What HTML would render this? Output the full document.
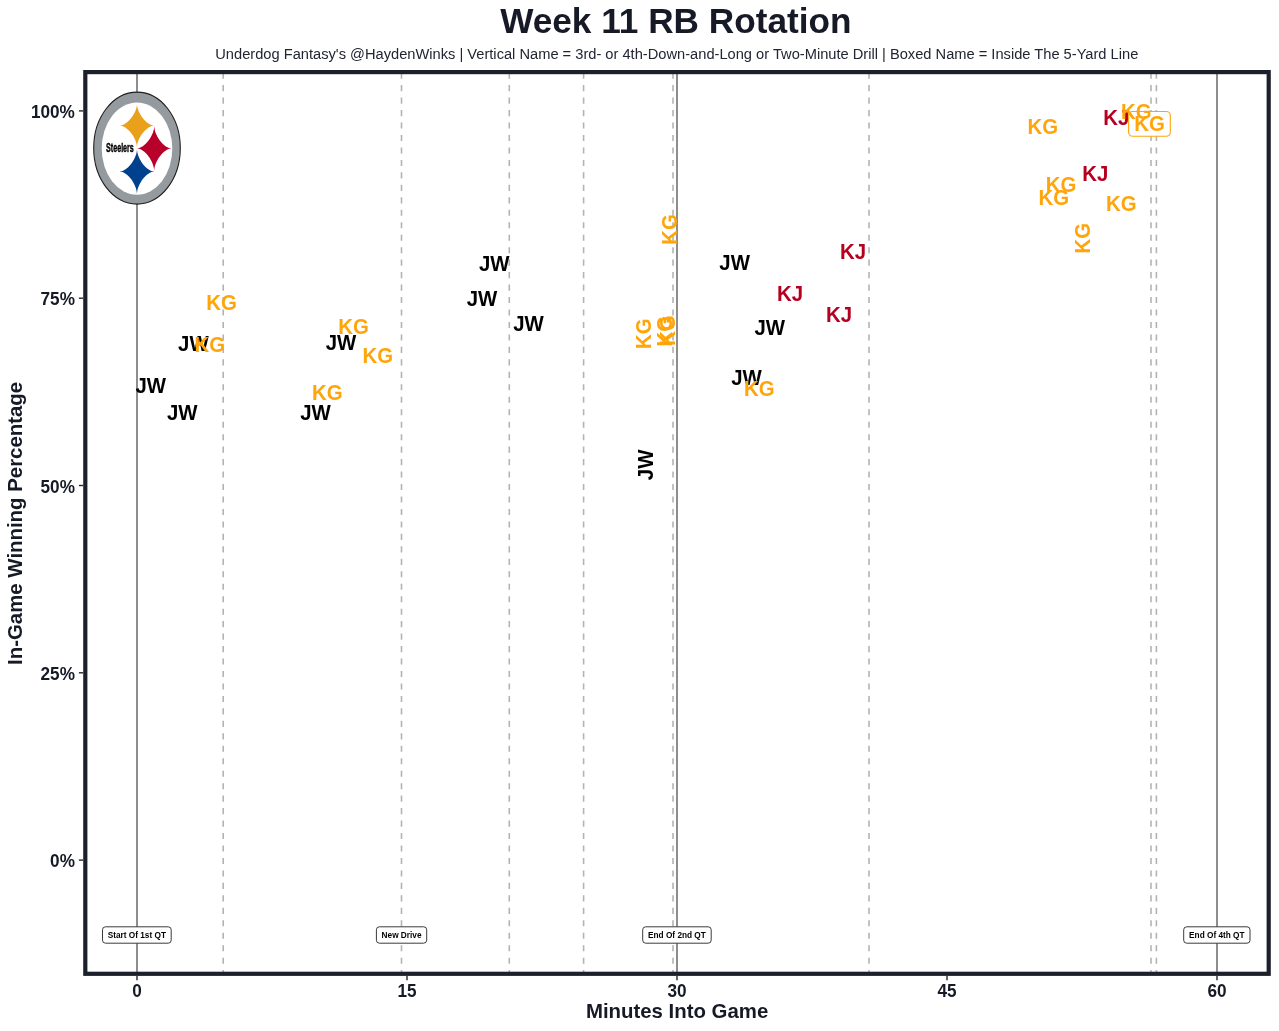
<!DOCTYPE html>
<html><head><meta charset="utf-8"><title>Week 11 RB Rotation</title>
<style>
html,body{margin:0;padding:0;background:#fff;}
svg{display:block;will-change:transform;}
text{font-family:'Liberation Sans', Arial, sans-serif;}
</style></head><body>
<svg width="1279" height="1031" viewBox="0 0 1279 1031">
<rect x="0" y="0" width="1279" height="1031" fill="#ffffff"/>

<text x="675.8" y="32.6" text-anchor="middle" font-weight="bold" font-size="35.2" fill="#161a26">Week 11 RB Rotation</text>
<text x="676.8" y="59.3" text-anchor="middle" font-size="14.66" fill="#222633">Underdog Fantasy's @HaydenWinks | Vertical Name = 3rd- or 4th-Down-and-Long or Two-Minute Drill | Boxed Name = Inside The 5-Yard Line</text>
<line x1="223.2" y1="72.64" x2="223.2" y2="973.8" stroke="#b3b3b3" stroke-width="1.6" stroke-dasharray="6.1 6.365"/>
<line x1="401.5" y1="72.64" x2="401.5" y2="973.8" stroke="#b3b3b3" stroke-width="1.6" stroke-dasharray="6.1 6.365"/>
<line x1="509.3" y1="72.64" x2="509.3" y2="973.8" stroke="#b3b3b3" stroke-width="1.6" stroke-dasharray="6.1 6.365"/>
<line x1="583.6" y1="72.64" x2="583.6" y2="973.8" stroke="#b3b3b3" stroke-width="1.6" stroke-dasharray="6.1 6.365"/>
<line x1="673.0" y1="72.64" x2="673.0" y2="973.8" stroke="#b3b3b3" stroke-width="1.6" stroke-dasharray="6.1 6.365"/>
<line x1="869.0" y1="72.64" x2="869.0" y2="973.8" stroke="#b3b3b3" stroke-width="1.6" stroke-dasharray="6.1 6.365"/>
<line x1="1151.0" y1="72.64" x2="1151.0" y2="973.8" stroke="#b3b3b3" stroke-width="1.6" stroke-dasharray="6.1 6.365"/>
<line x1="1156.4" y1="72.64" x2="1156.4" y2="973.8" stroke="#b3b3b3" stroke-width="1.6" stroke-dasharray="6.1 6.365"/>
<line x1="137" y1="72.1" x2="137" y2="973.8" stroke="#7a7a7a" stroke-width="1.7"/>
<line x1="677" y1="72.1" x2="677" y2="973.8" stroke="#7a7a7a" stroke-width="1.7"/>
<line x1="1217" y1="72.1" x2="1217" y2="973.8" stroke="#7a7a7a" stroke-width="1.7"/>
<g id="logo">
<ellipse cx="137" cy="148.1" rx="43.3" ry="56" fill="#949a9d" stroke="#1e1e1e" stroke-width="1.1"/>
<ellipse cx="137" cy="148.6" rx="35.3" ry="46.1" fill="#ffffff"/>
<path d="M154.50,125.60 C146.97,125.60 137.00,138.08 137.00,147.50 C137.00,138.08 127.03,125.60 119.50,125.60 C127.03,125.60 137.00,113.12 137.00,103.70 C137.00,113.12 146.97,125.60 154.50,125.60 Z" fill="#E9A11C"/>
<path d="M171.35,148.40 C164.00,148.40 154.25,161.28 154.25,171.00 C154.25,161.28 144.50,148.40 137.15,148.40 C144.50,148.40 154.25,135.52 154.25,125.80 C154.25,135.52 164.00,148.40 171.35,148.40 Z" fill="#B8002A"/>
<path d="M154.30,171.60 C146.86,171.60 137.00,184.42 137.00,194.10 C137.00,184.42 127.14,171.60 119.70,171.60 C127.14,171.60 137.00,158.78 137.00,149.10 C137.00,158.78 146.86,171.60 154.30,171.60 Z" fill="#00418F"/>
<text transform="translate(106.1 151.5) scale(0.52 1)" font-weight="bold" font-size="13.7" fill="#000" stroke="#000" stroke-width="0.45">Steelers</text>
</g>
<text transform="translate(221.45 310.25) scale(1 1.04)" text-anchor="middle" font-weight="bold" font-size="20.4" fill="#FFA50A">KG</text>
<text transform="translate(193.35 351.05) scale(1 1.04)" text-anchor="middle" font-weight="bold" font-size="20.4" fill="#000000">JW</text>
<text transform="translate(209.90 352.45) scale(1 1.04)" text-anchor="middle" font-weight="bold" font-size="20.4" fill="#FFA50A">KG</text>
<text transform="translate(150.75 393.25) scale(1 1.04)" text-anchor="middle" font-weight="bold" font-size="20.4" fill="#000000">JW</text>
<text transform="translate(182.20 419.85) scale(1 1.04)" text-anchor="middle" font-weight="bold" font-size="20.4" fill="#000000">JW</text>
<text transform="translate(353.55 333.85) scale(1 1.04)" text-anchor="middle" font-weight="bold" font-size="20.4" fill="#FFA50A">KG</text>
<text transform="translate(341.05 350.25) scale(1 1.04)" text-anchor="middle" font-weight="bold" font-size="20.4" fill="#000000">JW</text>
<text transform="translate(377.75 362.85) scale(1 1.04)" text-anchor="middle" font-weight="bold" font-size="20.4" fill="#FFA50A">KG</text>
<text transform="translate(327.20 400.05) scale(1 1.04)" text-anchor="middle" font-weight="bold" font-size="20.4" fill="#FFA50A">KG</text>
<text transform="translate(315.45 419.55) scale(1 1.04)" text-anchor="middle" font-weight="bold" font-size="20.4" fill="#000000">JW</text>
<text transform="translate(494.20 271.45) scale(1 1.04)" text-anchor="middle" font-weight="bold" font-size="20.4" fill="#000000">JW</text>
<text transform="translate(482.00 306.45) scale(1 1.04)" text-anchor="middle" font-weight="bold" font-size="20.4" fill="#000000">JW</text>
<text transform="translate(528.45 330.85) scale(1 1.04)" text-anchor="middle" font-weight="bold" font-size="20.4" fill="#000000">JW</text>
<text transform="translate(734.60 270.25) scale(1 1.04)" text-anchor="middle" font-weight="bold" font-size="20.4" fill="#000000">JW</text>
<text transform="translate(852.95 258.75) scale(1 1.04)" text-anchor="middle" font-weight="bold" font-size="20.4" fill="#B5001F">KJ</text>
<text transform="translate(790.10 301.00) scale(1 1.04)" text-anchor="middle" font-weight="bold" font-size="20.4" fill="#B5001F">KJ</text>
<text transform="translate(839.15 321.90) scale(1 1.04)" text-anchor="middle" font-weight="bold" font-size="20.4" fill="#B5001F">KJ</text>
<text transform="translate(769.70 334.65) scale(1 1.04)" text-anchor="middle" font-weight="bold" font-size="20.4" fill="#000000">JW</text>
<text transform="translate(746.45 384.75) scale(1 1.04)" text-anchor="middle" font-weight="bold" font-size="20.4" fill="#000000">JW</text>
<text transform="translate(759.25 396.05) scale(1 1.04)" text-anchor="middle" font-weight="bold" font-size="20.4" fill="#FFA50A">KG</text>
<text transform="translate(1042.90 134.45) scale(1 1.04)" text-anchor="middle" font-weight="bold" font-size="20.4" fill="#FFA50A">KG</text>
<text transform="translate(1095.20 181.15) scale(1 1.04)" text-anchor="middle" font-weight="bold" font-size="20.4" fill="#B5001F">KJ</text>
<text transform="translate(1061.05 191.95) scale(1 1.04)" text-anchor="middle" font-weight="bold" font-size="20.4" fill="#FFA50A">KG</text>
<text transform="translate(1053.80 205.25) scale(1 1.04)" text-anchor="middle" font-weight="bold" font-size="20.4" fill="#FFA50A">KG</text>
<text transform="translate(1121.40 211.00) scale(1 1.04)" text-anchor="middle" font-weight="bold" font-size="20.4" fill="#FFA50A">KG</text>
<text transform="translate(676.70 229.45) rotate(-90) scale(1 1.04)" x="0" y="0" text-anchor="middle" font-weight="bold" font-size="20.4" fill="#FFA50A">KG</text>
<text transform="translate(651.20 333.70) rotate(-90) scale(1 1.04)" x="0" y="0" text-anchor="middle" font-weight="bold" font-size="20.4" fill="#FFA50A">KG</text>
<text transform="translate(672.00 331.15) rotate(-90) scale(1 1.04)" x="0" y="0" text-anchor="middle" font-weight="bold" font-size="20.4" fill="#FFA50A">KG</text>
<text transform="translate(675.40 330.35) rotate(-90) scale(1 1.04)" x="0" y="0" text-anchor="middle" font-weight="bold" font-size="20.4" fill="#FFA50A">KG</text>
<text transform="translate(652.70 464.90) rotate(-90) scale(1 1.04)" x="0" y="0" text-anchor="middle" font-weight="bold" font-size="20.4" fill="#000000">JW</text>
<text transform="translate(1089.95 238.30) rotate(-90) scale(1 1.04)" x="0" y="0" text-anchor="middle" font-weight="bold" font-size="20.4" fill="#FFA50A">KG</text>
<rect x="1128.6" y="111.5" width="41.7" height="24.7" rx="4" ry="4" fill="#ffffff" stroke="#FFA50A" stroke-width="1.1"/>
<text transform="translate(1149.45 130.85) scale(1 1.04)" text-anchor="middle" font-weight="bold" font-size="20.4" fill="#FFA50A">KG</text>
<text transform="translate(1116.20 125.05) scale(1 1.04)" text-anchor="middle" font-weight="bold" font-size="20.4" fill="#B5001F">KJ</text>
<text transform="translate(1136.20 118.95) scale(1 1.04)" text-anchor="middle" font-weight="bold" font-size="20.4" fill="#FFA50A">KG</text>
<rect x="102.5" y="926.8" width="68.7" height="16.4" rx="3" ry="3" fill="#ffffff" stroke="#3a3a3a" stroke-width="1"/>
<text x="136.85" y="938.25" text-anchor="middle" font-weight="bold" font-size="8.25" fill="#000">Start Of 1st QT</text>
<rect x="376.4" y="926.8" width="50.3" height="16.4" rx="3" ry="3" fill="#ffffff" stroke="#3a3a3a" stroke-width="1"/>
<text x="401.55" y="938.25" text-anchor="middle" font-weight="bold" font-size="8.25" fill="#000">New Drive</text>
<rect x="642.7" y="926.8" width="68.5" height="16.4" rx="3" ry="3" fill="#ffffff" stroke="#3a3a3a" stroke-width="1"/>
<text x="676.95" y="938.25" text-anchor="middle" font-weight="bold" font-size="8.25" fill="#000">End Of 2nd QT</text>
<rect x="1183.7" y="926.8" width="66.3" height="16.4" rx="3" ry="3" fill="#ffffff" stroke="#3a3a3a" stroke-width="1"/>
<text x="1216.85" y="938.25" text-anchor="middle" font-weight="bold" font-size="8.25" fill="#000">End Of 4th QT</text>
<rect x="85.3" y="72.1" width="1183.4" height="901.7" fill="none" stroke="#1c202b" stroke-width="4.2"/>
<line x1="78.9" y1="110.9" x2="83.2" y2="110.9" stroke="#262626" stroke-width="1.4"/>
<text transform="translate(74.9 118.0) scale(0.955 1)" text-anchor="end" font-weight="bold" font-size="18" fill="#161a26">100%</text>
<line x1="78.9" y1="298.2" x2="83.2" y2="298.2" stroke="#262626" stroke-width="1.4"/>
<text transform="translate(74.9 305.3) scale(0.955 1)" text-anchor="end" font-weight="bold" font-size="18" fill="#161a26">75%</text>
<line x1="78.9" y1="485.5" x2="83.2" y2="485.5" stroke="#262626" stroke-width="1.4"/>
<text transform="translate(74.9 492.6) scale(0.955 1)" text-anchor="end" font-weight="bold" font-size="18" fill="#161a26">50%</text>
<line x1="78.9" y1="672.8" x2="83.2" y2="672.8" stroke="#262626" stroke-width="1.4"/>
<text transform="translate(74.9 679.9) scale(0.955 1)" text-anchor="end" font-weight="bold" font-size="18" fill="#161a26">25%</text>
<line x1="78.9" y1="860.1" x2="83.2" y2="860.1" stroke="#262626" stroke-width="1.4"/>
<text transform="translate(74.9 867.2) scale(0.955 1)" text-anchor="end" font-weight="bold" font-size="18" fill="#161a26">0%</text>
<line x1="137" y1="975.9" x2="137" y2="980.2" stroke="#262626" stroke-width="1.4"/>
<text transform="translate(137 996.6) scale(0.955 1)" text-anchor="middle" font-weight="bold" font-size="18" fill="#161a26">0</text>
<line x1="407" y1="975.9" x2="407" y2="980.2" stroke="#262626" stroke-width="1.4"/>
<text transform="translate(407 996.6) scale(0.955 1)" text-anchor="middle" font-weight="bold" font-size="18" fill="#161a26">15</text>
<line x1="677" y1="975.9" x2="677" y2="980.2" stroke="#262626" stroke-width="1.4"/>
<text transform="translate(677 996.6) scale(0.955 1)" text-anchor="middle" font-weight="bold" font-size="18" fill="#161a26">30</text>
<line x1="947" y1="975.9" x2="947" y2="980.2" stroke="#262626" stroke-width="1.4"/>
<text transform="translate(947 996.6) scale(0.955 1)" text-anchor="middle" font-weight="bold" font-size="18" fill="#161a26">45</text>
<line x1="1217" y1="975.9" x2="1217" y2="980.2" stroke="#262626" stroke-width="1.4"/>
<text transform="translate(1217 996.6) scale(0.955 1)" text-anchor="middle" font-weight="bold" font-size="18" fill="#161a26">60</text>
<text x="677.1" y="1017.8" text-anchor="middle" font-weight="bold" font-size="20.4" fill="#161a26">Minutes Into Game</text>
<text transform="translate(22.2 523.4) rotate(-90)" text-anchor="middle" font-weight="bold" font-size="20.4" fill="#161a26">In-Game Winning Percentage</text>
</svg>
</body></html>
